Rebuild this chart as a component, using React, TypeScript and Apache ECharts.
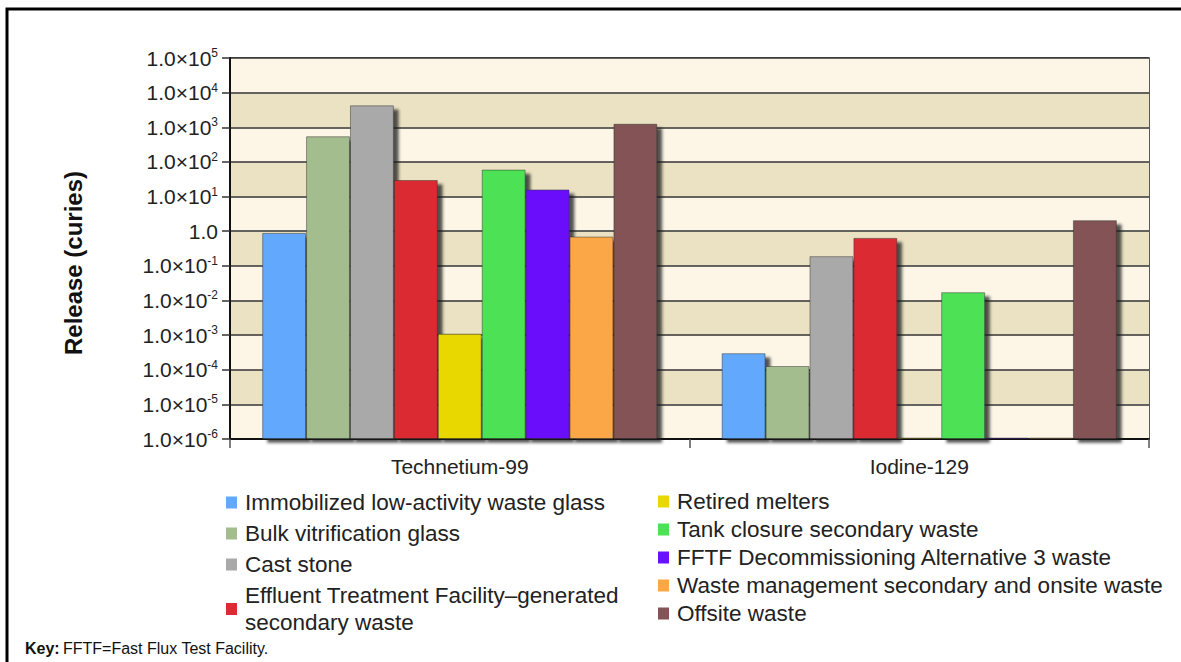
import React, { useEffect, useRef } from "react";
import * as echarts from "echarts";

const categories = ["Technetium-99", "Iodine-129"];

const seriesNames = [
  "Immobilized low-activity waste glass",
  "Bulk vitrification glass",
  "Cast stone",
  "Effluent Treatment Facility–generated secondary waste",
  "Retired melters",
  "Tank closure secondary waste",
  "FFTF Decommissioning Alternative 3 waste",
  "Waste management secondary and onsite waste",
  "Offsite waste",
];

// Release (curies) per waste form, same order as seriesNames
const technetium99 = [0.89, 550, 4300, 30, 0.0011, 60, 16, 0.7, 1260];
const iodine129 = [0.0003, 0.000128, 0.19, 0.64, 0.0000011, 0.0173, 0.0000011, 0.0000011, 2.08];

const colors = [
  "#62a8fc",
  "#a3bd8e",
  "#a9a9a9",
  "#dc2b33",
  "#e9d805",
  "#4de157",
  "#6a11fb",
  "#fca746",
  "#845355",
];

const FONT = "'Liberation Sans', Arial, Helvetica, sans-serif";

export default function App() {
  const ref = useRef<HTMLDivElement>(null);

  useEffect(() => {
    if (!ref.current) return;
    const chart = echarts.init(ref.current, undefined, { renderer: "svg" });

    const series = seriesNames.map((name, i) => ({
      name,
      type: "bar",
      data: [technetium99[i], iodine129[i]],
      barGap: "0%",
      barCategoryGap: "14%",
      itemStyle: {
        color: colors[i],
        borderColor: "rgba(40,40,40,0.45)",
        borderWidth: 1,
        shadowColor: "rgba(30,30,30,0.75)",
        shadowBlur: 3,
        shadowOffsetX: 5,
        shadowOffsetY: 4,
      },
    }));

    const legendText = {
      fontSize: 22.5,
      color: "#222",
      fontFamily: FONT,
      lineHeight: 27,
      padding: [0, 0, 0, 3],
    };

    const legendItemStyle = { borderWidth: 0, shadowBlur: 0, shadowOffsetX: 0, shadowOffsetY: 0 };

    chart.setOption({
      animation: false,
      backgroundColor: "#ffffff",
      textStyle: { fontFamily: FONT },
      grid: {
        left: 230,
        top: 58,
        right: 32,
        bottom: 223,
        show: true,
        borderColor: "#222",
        borderWidth: 1.5,
      },
      xAxis: {
        type: "category",
        data: categories,
        axisLine: { lineStyle: { color: "#111", width: 2 } },
        axisTick: { show: true, length: 9, lineStyle: { color: "#555", width: 1.5 } },
        axisLabel: { fontSize: 21, color: "#222", margin: 17, fontFamily: FONT },
      },
      yAxis: {
        type: "log",
        logBase: 10,
        min: 1e-6,
        max: 1e5,
        interval: 1,
        startValue: 1e-6,
        axisLine: { show: true, lineStyle: { color: "#111", width: 2 } },
        axisTick: { show: true, length: 8, lineStyle: { color: "#333", width: 1.5 } },
        splitLine: { show: true, lineStyle: { color: "#333", width: 1.5 } },
        splitArea: { show: true, areaStyle: { color: ["#fdf6e7", "#ebe2c3"] } },
        axisLabel: {
          margin: 12,
          formatter: (v: number) => {
            const e = Math.round(Math.log10(v));
            if (e === 0) return "{a|1.0}";
            return `{a|1.0×10}{s|${e}}`;
          },
          rich: {
            a: { fontSize: 21, color: "#222", fontFamily: FONT, lineHeight: 22 },
            s: { fontSize: 12, color: "#222", fontFamily: FONT, verticalAlign: "top", lineHeight: 12 },
          },
        },
      },
      legend: [
        {
          orient: "vertical",
          left: 226,
          top: 489,
          height: 300,
          padding: 0,
          itemWidth: 11,
          itemHeight: 12,
          itemGap: 4,
          icon: "rect",
          itemStyle: legendItemStyle,
          data: seriesNames.slice(0, 4),
          textStyle: legendText,
          formatter: (name: string) =>
            name === seriesNames[3]
              ? "Effluent Treatment Facility–generated\nsecondary waste"
              : name,
          selectedMode: false,
        },
        {
          orient: "vertical",
          left: 658,
          top: 488,
          height: 300,
          padding: 0,
          itemWidth: 11,
          itemHeight: 12,
          itemGap: 1,
          icon: "rect",
          itemStyle: legendItemStyle,
          data: seriesNames.slice(4),
          textStyle: legendText,
          selectedMode: false,
        },
      ],
      graphic: [
        {
          type: "polyline",
          shape: { points: [[7, 662], [7, 9], [1181, 9]] },
          style: { stroke: "#000", lineWidth: 3, fill: "none" },
        },
        {
          type: "text",
          x: 73,
          y: 263,
          rotation: Math.PI / 2,
          style: {
            text: "Release (curies)",
            fontSize: 24,
            fontWeight: "bold",
            fill: "#111",
            fontFamily: FONT,
            align: "center",
            verticalAlign: "middle",
          },
        },
        {
          type: "text",
          x: 25,
          y: 648,
          style: {
            text: "{b|Key:} {r|FFTF=Fast Flux Test Facility.}",
            verticalAlign: "middle",
            rich: {
              b: { fontSize: 16, fontWeight: "bold", fill: "#111", fontFamily: FONT },
              r: { fontSize: 16, fill: "#111", fontFamily: FONT },
            },
          },
        },
      ],
      series,
    });

    return () => chart.dispose();
  }, []);

  return (
    <div
      ref={ref}
      style={{ position: "absolute", left: 0, top: 0, width: 1181, height: 662 }}
    />
  );
}
